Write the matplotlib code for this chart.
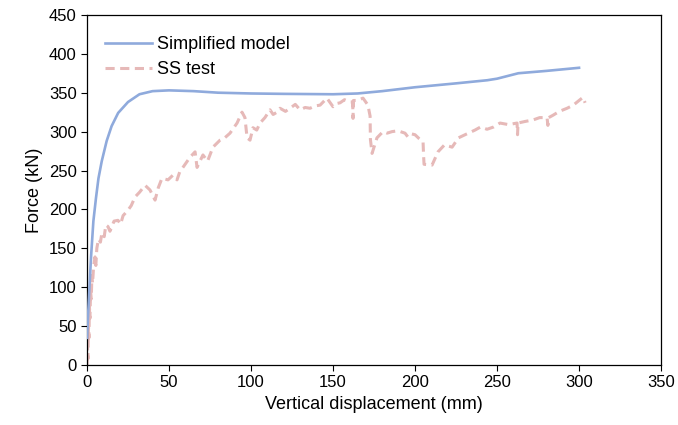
import matplotlib.pyplot as plt

plt.rcParams['font.family'] = ['Liberation Sans', 'DejaVu Sans']

# Simplified model (blue)
model_disp = [0, 0.7, 1.4, 2.5, 3.9, 5.5, 7, 9, 12, 15, 19, 25, 32, 40, 50, 65,
              80, 100, 120, 150, 165, 180, 200, 225, 244, 250, 263, 280, 300]
model_force = [35, 65, 96, 140, 185, 215, 240, 262, 288, 307, 324, 338, 348, 352,
               353, 352, 350, 349, 348.5, 348, 349, 352, 357, 362, 366, 368, 375,
               378, 382]

# SS test (red dashed)
test_disp = [0, 0.3, 0.6, 0.9, 1.2, 1.5, 1.8, 2.2, 2.6, 3.0, 3.4, 4.0, 4.9, 5.4,
             6.0, 7.0, 8.2, 9.1, 10.5, 11.5, 12.8, 14.0, 16.5, 18.9, 20.5, 22,
             25.0, 27, 29.3, 32, 35.4, 38.4, 41.5, 43.5, 45.7, 49.4, 52.4, 54.9,
             56.5, 58.5, 62.8, 65.9, 67.1, 70.7, 73.5, 76.8, 81.1, 84, 87.2, 91.5,
             94.5, 96.3, 97.6, 99.4, 101.2, 103.5, 105.5, 108.5, 111.6, 113.5,
             115.9, 117.7, 121, 123.8, 127, 129.9, 133, 136.0, 139, 142.1, 146.3,
             150.0, 152, 154.3, 157, 160.4, 162.0, 162.2, 162.4, 164.6, 168.3,
             171.3, 172.6, 172.8, 173.8, 176.8, 180.5, 183, 186.0, 189.6, 193.9,
             195.7, 198, 200.0, 202.5, 204.9, 205.2, 205.5, 210.4, 214.0, 218,
             222.6, 226.5, 230.5, 236.6, 240, 243.9, 248, 251.8, 257, 262.2, 262.5,
             262.8, 267, 272.0, 276, 280.5, 281.0, 281.5, 284.1, 288, 292.7, 296.5,
             300.6, 302.4, 303.7]
test_force = [0, 25, 8, 50, 35, 75, 60, 95, 85, 115, 105, 126, 139, 128, 150, 162,
              158, 170, 165, 180, 178, 172, 185, 186, 181, 192, 199, 205, 216, 222,
              231, 225, 212, 228, 240, 238, 244, 238, 248, 254, 267, 274, 254, 270,
              262, 280, 289, 292, 298, 311, 325, 318, 292, 289, 305, 302, 311, 318,
              328, 322, 325, 330, 326, 330, 335, 328, 331, 330, 333, 334, 343, 332,
              336, 337, 341, 338, 338, 317, 340, 340, 343, 334, 320, 290, 272, 292,
              300, 298, 300, 301, 298, 293, 297, 296, 291, 287, 270, 258, 257, 274,
              283, 280, 292, 296, 302, 306, 303, 306, 311, 309, 311, 296, 311, 313,
              315, 318, 318, 308, 318, 321, 326, 330, 334, 341, 344, 337]

fig = plt.figure(figsize=(6.78, 4.25), dpi=100)
ax = fig.add_axes([0.1283, 0.141, 0.8467, 0.824])

ax.plot(model_disp, model_force, color='#8FAADC', linewidth=1.9,
        label='Simplified model', zorder=3)
ax.plot(test_disp, test_force, color='#E6B9B8', linewidth=2.2,
        linestyle=(0, (3, 1.8)), label='SS test', zorder=2)

ax.set_xlim(0, 350)
ax.set_ylim(0, 450)
ax.set_xticks(range(0, 351, 50))
ax.set_yticks(range(0, 451, 50))
ax.tick_params(direction='out', length=4, width=0.8, labelsize=12, colors='black')
for s in ax.spines.values():
    s.set_color('black')
    s.set_linewidth(0.9)

ax.set_xlabel('Vertical displacement (mm)', fontsize=13)
ax.set_ylabel('Force (kN)', fontsize=13)

ax.legend(loc='upper left', bbox_to_anchor=(0.0, 0.99), frameon=False, fontsize=13,
          handlelength=2.6, handletextpad=0.28, labelspacing=0.42,
          borderpad=0.2, borderaxespad=0.8)

fig.savefig('out.png', dpi=100)
